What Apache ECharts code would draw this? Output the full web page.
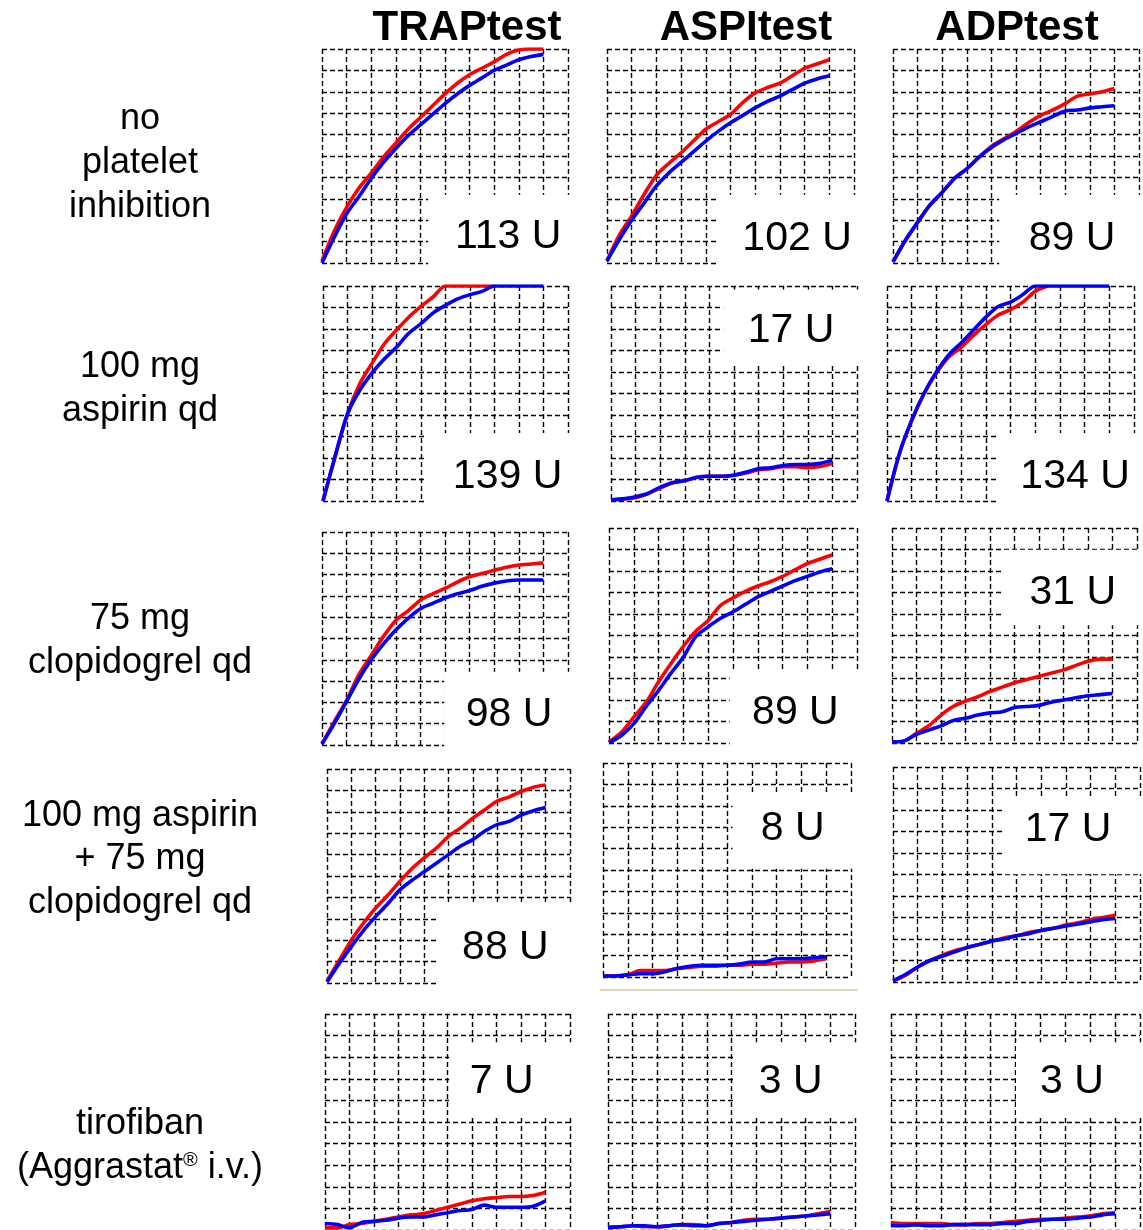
<!DOCTYPE html>
<html><head><meta charset="utf-8">
<script src="https://cdn.jsdelivr.net/npm/echarts@6/dist/echarts.min.js"></script>
<style>html,body{margin:0;padding:0;background:#fff}#c{width:1143px;height:1230px}</style>
</head><body><div id="c"></div>
<script>
// ---------- DATA ----------
const tests = ['TRAPtest', 'ASPItest', 'ADPtest'];
const treatments = [
  ['no', 'platelet', 'inhibition'],
  ['100 mg', 'aspirin qd'],
  ['75 mg', 'clopidogrel qd'],
  ['100 mg aspirin', '+ 75 mg', 'clopidogrel qd'],
  ['tirofiban', '(Aggrastat{sup|®} i.v.)']
];
const unitLabels = [
  ['113 U', '102 U', '89 U'],
  ['139 U', '17 U', '134 U'],
  ['98 U', '89 U', '31 U'],
  ['88 U', '8 U', '17 U'],
  ['7 U', '3 U', '3 U']
];
// time in grid units (each grid column), aggregation in grid units
const time = [0, 0.5, 1, 1.5, 2, 2.5, 3, 3.5, 4, 4.5, 5, 5.5, 6, 6.5, 7, 7.5, 8, 8.5, 9];

const noInhTrapRed  = [0.1, 1.5, 2.6, 3.5, 4.2, 4.95, 5.6, 6.25, 6.8, 7.35, 7.9, 8.4, 8.8, 9.1, 9.4, 9.75, 9.95, 10, 10];
const noInhTrapBlue = [0, 1.2, 2.3, 3.1, 3.95, 4.7, 5.35, 5.95, 6.45, 6.95, 7.45, 7.9, 8.3, 8.65, 9.0, 9.25, 9.5, 9.65, 9.75];
const noInhAspiRed  = [0.1, 1.3, 2.2, 3.2, 4.1, 4.65, 5.15, 5.7, 6.25, 6.6, 6.95, 7.5, 7.95, 8.2, 8.4, 8.75, 9.1, 9.3, 9.5];
const noInhAspiBlue = [0.1, 1.1, 2.0, 2.8, 3.6, 4.2, 4.7, 5.2, 5.7, 6.15, 6.55, 6.9, 7.25, 7.55, 7.8, 8.1, 8.4, 8.6, 8.75];
const noInhAdpRed   = [0.05, 1.05, 1.9, 2.7, 3.3, 3.95, 4.4, 4.95, 5.45, 5.8, 6.15, 6.55, 6.9, 7.15, 7.45, 7.8, 7.9, 8.0, 8.15];
const noInhAdpBlue  = [0.05, 1.05, 1.9, 2.7, 3.3, 3.95, 4.4, 4.95, 5.4, 5.75, 6.05, 6.35, 6.6, 6.85, 7.1, 7.15, 7.25, 7.3, 7.35];

const aspTrapRed  = [0, 2.1, 4.05, 5.45, 6.4, 7.3, 7.95, 8.55, 9.05, 9.5, 10, 10, 10, 10, 10, null, null, null, null];
const aspTrapBlue = [0, 2.1, 4.05, 5.15, 5.95, 6.6, 7.15, 7.8, 8.25, 8.75, 9.1, 9.4, 9.6, 9.75, 10, 10, 10, 10, 10];
const aspAspiRed  = [0.05, 0.1, 0.15, 0.35, 0.6, 0.85, 0.95, 1.1, 1.15, 1.15, 1.2, 1.3, 1.45, 1.5, 1.6, 1.6, 1.55, 1.6, 1.75];
const aspAspiBlue = [0.05, 0.1, 0.2, 0.35, 0.65, 0.85, 0.95, 1.1, 1.15, 1.15, 1.2, 1.35, 1.5, 1.55, 1.65, 1.7, 1.7, 1.75, 1.9];
const aspAdpRed   = [0, 2.2, 3.75, 5.0, 5.95, 6.7, 7.15, 7.7, 8.2, 8.65, 8.9, 9.25, 9.75, 10, null, null, null, null, null];
const aspAdpBlue  = [0, 2.2, 3.75, 5.0, 6.0, 6.8, 7.35, 7.95, 8.55, 9.05, 9.25, 9.6, 10, 10, 10, 10, 10, 10, 10];

const clopTrapRed  = [0.05, 1.1, 2.1, 3.3, 4.2, 5.1, 5.85, 6.3, 6.8, 7.1, 7.35, 7.65, 7.9, 8.05, 8.2, 8.35, 8.45, 8.5, 8.55];
const clopTrapBlue = [0.05, 1.0, 2.05, 3.1, 4.0, 4.75, 5.4, 5.95, 6.4, 6.65, 6.9, 7.1, 7.25, 7.45, 7.6, 7.7, 7.75, 7.75, 7.75];
const clopAspiRed  = [0.05, 0.5, 1.2, 1.9, 2.85, 3.7, 4.5, 5.2, 5.7, 6.4, 6.75, 7.05, 7.3, 7.5, 7.75, 8.05, 8.35, 8.55, 8.75];
const clopAspiBlue = [0, 0.35, 0.9, 1.7, 2.45, 3.25, 4.0, 4.95, 5.4, 5.8, 6.1, 6.45, 6.8, 7.05, 7.3, 7.55, 7.75, 7.95, 8.1];
const clopAdpRed   = [0.05, 0.1, 0.45, 0.8, 1.3, 1.7, 1.95, 2.15, 2.4, 2.6, 2.8, 2.95, 3.1, 3.25, 3.4, 3.6, 3.8, 3.9, 3.9];
const clopAdpBlue  = [0.05, 0.1, 0.4, 0.6, 0.8, 1.05, 1.15, 1.3, 1.4, 1.45, 1.65, 1.7, 1.75, 1.9, 2.0, 2.1, 2.2, 2.25, 2.3];

const dualTrapRed  = [0.1, 1.05, 2.0, 2.8, 3.5, 4.1, 4.75, 5.35, 5.85, 6.3, 6.85, 7.25, 7.7, 8.1, 8.5, 8.7, 8.95, 9.15, 9.25];
const dualTrapBlue = [0.05, 0.9, 1.7, 2.45, 3.1, 3.7, 4.35, 4.8, 5.2, 5.6, 6.0, 6.4, 6.7, 7.1, 7.4, 7.55, 7.85, 8.05, 8.2];
const dualAspiRed  = [0.05, 0.05, 0.1, 0.3, 0.3, 0.3, 0.4, 0.45, 0.5, 0.5, 0.55, 0.55, 0.6, 0.6, 0.65, 0.7, 0.7, 0.75, 0.85];
const dualAspiBlue = [0.05, 0.05, 0.1, 0.15, 0.15, 0.25, 0.4, 0.5, 0.55, 0.55, 0.55, 0.6, 0.7, 0.7, 0.85, 0.85, 0.85, 0.9, 0.95];
const dualAdpRed   = [0.05, 0.3, 0.7, 1.0, 1.25, 1.45, 1.6, 1.75, 1.9, 2.05, 2.15, 2.3, 2.4, 2.5, 2.65, 2.75, 2.9, 3.0, 3.1];
const dualAdpBlue  = [0.05, 0.35, 0.7, 1.0, 1.2, 1.4, 1.6, 1.75, 1.9, 2.0, 2.15, 2.25, 2.4, 2.5, 2.6, 2.7, 2.8, 2.9, 2.95];

const tiroTrapRed  = [0.1, 0.1, 0.25, 0.3, 0.4, 0.5, 0.6, 0.7, 0.75, 0.9, 1.05, 1.2, 1.35, 1.45, 1.5, 1.55, 1.55, 1.6, 1.75];
const tiroTrapBlue = [0.3, 0.25, 0.1, 0.35, 0.4, 0.45, 0.55, 0.6, 0.6, 0.7, 0.8, 0.9, 0.95, 1.15, 1.05, 1.05, 1.05, 1.1, 1.35];
const tiroAspiRed  = [0.15, 0.15, 0.2, 0.15, 0.15, 0.2, 0.25, 0.25, 0.2, 0.3, 0.35, 0.45, 0.5, 0.5, 0.55, 0.6, 0.65, 0.75, 0.85];
const tiroAspiBlue = [0.1, 0.15, 0.2, 0.2, 0.15, 0.2, 0.25, 0.2, 0.2, 0.3, 0.35, 0.4, 0.45, 0.5, 0.55, 0.6, 0.65, 0.7, 0.75];
const tiroAdpRed   = [0.35, 0.3, 0.3, 0.3, 0.3, 0.25, 0.25, 0.3, 0.3, 0.35, 0.4, 0.45, 0.5, 0.5, 0.55, 0.6, 0.65, 0.75, 0.8];
const tiroAdpBlue  = [0.2, 0.2, 0.25, 0.2, 0.2, 0.25, 0.25, 0.25, 0.25, 0.3, 0.3, 0.4, 0.45, 0.5, 0.5, 0.55, 0.6, 0.7, 0.75];

const redSeries = [
  [noInhTrapRed, noInhAspiRed, noInhAdpRed],
  [aspTrapRed, aspAspiRed, aspAdpRed],
  [clopTrapRed, clopAspiRed, clopAdpRed],
  [dualTrapRed, dualAspiRed, dualAdpRed],
  [tiroTrapRed, tiroAspiRed, tiroAdpRed]
];
const blueSeries = [
  [noInhTrapBlue, noInhAspiBlue, noInhAdpBlue],
  [aspTrapBlue, aspAspiBlue, aspAdpBlue],
  [clopTrapBlue, clopAspiBlue, clopAdpBlue],
  [dualTrapBlue, dualAspiBlue, dualAdpBlue],
  [tiroTrapBlue, tiroAspiBlue, tiroAdpBlue]
];

// ---------- LAYOUT ----------
const panelRects = [
  [[322, 49, 246, 214], [607, 49, 247, 214], [893, 49, 246, 214]],
  [[323, 286, 245, 215], [611, 286, 246, 215], [887, 286, 247, 215]],
  [[322, 532, 246, 213], [609, 528, 248, 215], [892, 528, 245, 215]],
  [[327, 769, 243, 214], [603, 763, 248, 214], [893, 767, 247, 215]],
  [[325, 1014, 245, 216], [608, 1014, 247, 216], [891, 1014, 249, 216]]
];
// label boxes in grid units [x0, y0, x1, y1]
const boxRects = [
  [[4.4, 0, 10, 3.1], [4.5, 0, 10, 3.1], [4.4, 0, 10, 3.1]],
  [[4.25, 0, 10, 3.07], [4.64, 6.43, 10, 9.75], [4.5, 0, 10, 3.07]],
  [[5.05, 0, 10, 3.35], [4.95, 0, 10, 3.3], [4.6, 5.57, 10, 8.9]],
  [[4.6, 0, 10, 3.56], [5.3, 5.15, 10, 8.5], [4.5, 5.1, 10, 8.5]],
  [[5.15, 5.4, 10, 8.6], [5.2, 5.4, 10, 8.6], [5.1, 5.4, 10, 8.6]]
];
// label text offsets (px) from the box centre
const labelOffsets = [
  [[9, 7], [11, 9], [2, 9]],
  [[10, 9], [0, 4], [9, 9]],
  [[2, 5], [1, 5], [2, 5]],
  [[1, 3], [0, -2], [-4, -6]],
  [[-9, 3], [-5, 3], [-7, 3]]
];
const headerX = [467, 746, 1017];
const rowLabelY = [[118, 162, 206], [366, 410], [618, 662], [815, 858, 902], [1123, 1167]];

const FONT = 'Liberation Sans, Arial, Helvetica, sans-serif';
const grids = [], xAxes = [], yAxes = [], series = [], graphics = [];
const dash = { color: '#000', width: 1.4, type: [5, 3] };

for (let r = 0; r < 5; r++) {
  for (let c = 0; c < 3; c++) {
    const idx = r * 3 + c;
    const [l, t, w, h] = panelRects[r][c];
    grids.push({ left: l, top: t, width: w, height: h });
    const ax = {
      gridIndex: idx, type: 'value', min: 0, max: 10, interval: 1,
      axisLine: { show: false }, axisTick: { show: false }, axisLabel: { show: false },
      splitLine: { show: true, lineStyle: dash }
    };
    xAxes.push(Object.assign({}, ax));
    yAxes.push(Object.assign({}, ax));
    const b = boxRects[r][c];
    series.push({
      type: 'line', xAxisIndex: idx, yAxisIndex: idx, data: [], z: 1, clip: false,
      silent: true,
      markArea: {
        silent: true,
        itemStyle: { color: '#fff', borderColor: '#fff', borderWidth: 4, opacity: 1 },
        label: { show: true, position: 'inside', offset: labelOffsets[r][c], color: '#000', fontSize: 41, fontFamily: FONT },
        data: [[{ name: unitLabels[r][c], coord: [b[0], b[1]] }, { coord: [b[2], b[3]] }]]
      }
    });
    series.push({
      type: 'line', xAxisIndex: idx, yAxisIndex: idx, z: 3,
      data: time.map((x, i) => [x, redSeries[r][c][i]]),
      showSymbol: false, smooth: 0.3, connectNulls: false,
      lineStyle: { color: '#ff0000', width: 3.6 }
    });
    series.push({
      type: 'line', xAxisIndex: idx, yAxisIndex: idx, z: 4,
      data: time.map((x, i) => [x, blueSeries[r][c][i]]),
      showSymbol: false, smooth: 0.3,
      lineStyle: { color: '#0000ff', width: 3.6 }
    });
  }
}

tests.forEach((t, c) => {
  graphics.push({
    type: 'text', x: headerX[c], y: 28, z: 10,
    style: { text: t, fontSize: 42, fontWeight: 'bold', fontFamily: FONT, fill: '#000', align: 'center', verticalAlign: 'middle' }
  });
});
treatments.forEach((lines, r) => {
  lines.forEach((ln, k) => {
    graphics.push({
      type: 'text', x: 140, y: rowLabelY[r][k] + 1, z: 10,
      style: {
        text: ln, fontSize: 36, fontFamily: FONT, fill: '#000', align: 'center', verticalAlign: 'middle',
        rich: { sup: { fontSize: 20, fontFamily: FONT, verticalAlign: 'top', padding: [0, 0, 14, 0] } }
      }
    });
  });
});
graphics.push({ type: 'line', shape: { x1: 600, y1: 990, x2: 858, y2: 990 }, style: { stroke: '#dcd6c2', lineWidth: 2 }, z: 10 });

const chart = echarts.init(document.getElementById('c'), null, { renderer: 'canvas' });
chart.setOption({
  animation: false,
  backgroundColor: '#fff',
  grid: grids, xAxis: xAxes, yAxis: yAxes, series: series,
  graphic: graphics
});
</script></body></html>
